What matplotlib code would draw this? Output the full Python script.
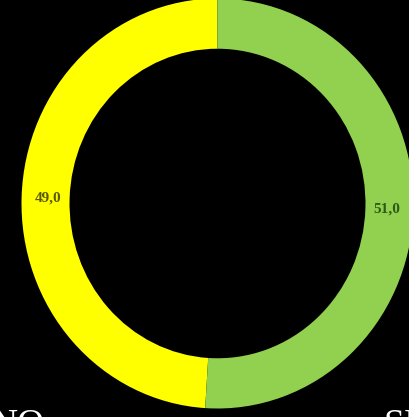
import matplotlib
matplotlib.use("Agg")
import matplotlib.pyplot as plt
import numpy as np

categories = ["NO", "SI"]
values = [49.0, 51.0]
colors = ["#FFFF00", "#92D050"]
label_colors = ["#5a5a00", "#2f5a14"]

W, H = 409, 417
fig = plt.figure(figsize=(W / 100, H / 100), dpi=100, facecolor="black")

# ring center / radii in pixels (from top-left)
cx, cy = 217.5, 203.5
rx, ry = 196.0, 205.0
ax = fig.add_axes([(cx - rx) / W, (H - (cy + ry)) / H, 2 * rx / W, 2 * ry / H])
ax.set_facecolor("black")

wedges, texts = ax.pie(values, colors=colors, startangle=90, counterclock=True,
                       radius=1.0, wedgeprops=dict(width=0.245, edgecolor="none"))
ax.set_aspect("auto")
ax.set_xlim(-1, 1)
ax.set_ylim(-1, 1)
ax.axis("off")

for v, w, lc in zip(values, wedges, label_colors):
    mid = np.deg2rad((w.theta1 + w.theta2) / 2)
    r = 0.865
    ax.text(r * np.cos(mid), r * np.sin(mid), f"{v:.1f}".replace(".", ","),
            ha="center", va="center", fontsize=11, fontweight="bold",
            family="Liberation Serif", color=lc)

# legend-like category labels, mostly cut off at the bottom edge
fig.text(-9 / W, -0.044, categories[0], fontsize=27, family="Liberation Serif",
         color="white", ha="left", va="baseline")
fig.text(383 / W, -0.044, categories[1], fontsize=27, family="Liberation Serif",
         color="white", ha="left", va="baseline")

fig.savefig("out.png", dpi=100, facecolor="black")
